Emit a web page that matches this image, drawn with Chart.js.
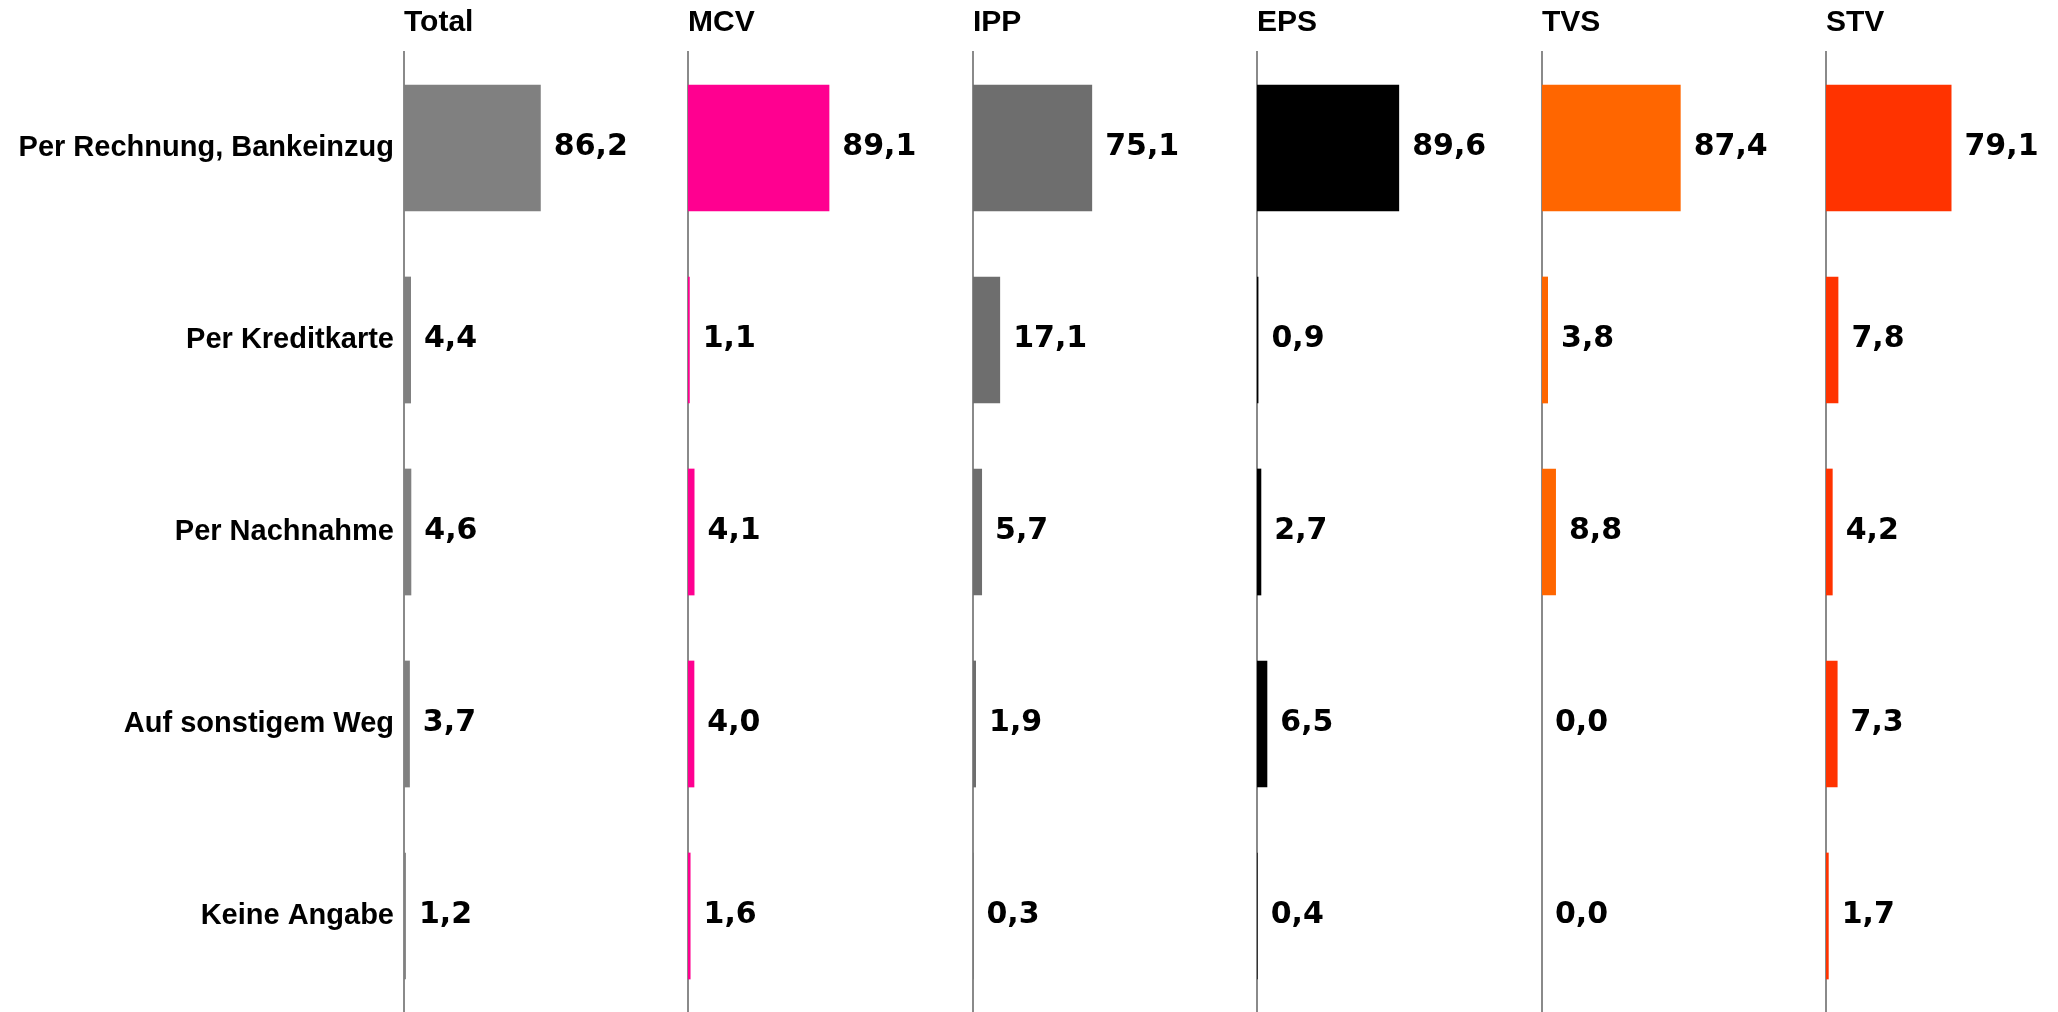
<!DOCTYPE html>
<html lang="de">
<head>
<meta charset="UTF-8">
<title>Zahlungsweise</title>
<script src="https://cdn.jsdelivr.net/npm/chart.js@4.4.3/dist/chart.umd.min.js"></script>
<style>
  body { margin: 0; background: #fff; width: 2058px; height: 1012px; overflow: hidden; position: relative; }
  canvas { position: absolute; top: 0; }
</style>
</head>
<body>
<script>
const categories = ['Per Rechnung, Bankeinzug', 'Per Kreditkarte', 'Per Nachnahme', 'Auf sonstigem Weg', 'Keine Angabe'];
const groups = ['Total', 'MCV', 'IPP', 'EPS', 'TVS', 'STV'];

const total = [86.2, 4.4, 4.6, 3.7, 1.2];
const mcv   = [89.1, 1.1, 4.1, 4.0, 1.6];
const ipp   = [75.1, 17.1, 5.7, 1.9, 0.3];
const eps   = [89.6, 0.9, 2.7, 6.5, 0.4];
const tvs   = [87.4, 3.8, 8.8, 0.0, 0.0];
const stv   = [79.1, 7.8, 4.2, 7.3, 1.7];

const series = [total, mcv, ipp, eps, tvs, stv];
const colors = ['#808080', '#ff0090', '#6e6e6e', '#000000', '#ff6600', '#ff3300'];

// value text to the right of each bar, german decimal comma
const valueLabels = {
  id: 'valueLabels',
  afterDatasetsDraw(chart) {
    const ctx = chart.ctx;
    const meta = chart.getDatasetMeta(0);
    const data = chart.data.datasets[0].data;
    ctx.save();
    ctx.font = 'bold 30px "DejaVu Sans"';
    ctx.fillStyle = '#000';
    ctx.textAlign = 'left';
    ctx.textBaseline = 'middle';
    meta.data.forEach((bar, j) => {
      ctx.fillText(data[j].toFixed(1).replace('.', ','), bar.x + 13, bar.y - 1);
    });
    ctx.restore();
  }
};

const firstAxis = 404;
const step = 284.4;
const plotW = 284;

groups.forEach((name, i) => {
  const yw = i === 0 ? firstAxis : 10;
  const canvas = document.createElement('canvas');
  canvas.width = yw + plotW;
  canvas.height = 1012;
  canvas.style.left = Math.round(firstAxis + i * step - yw) + 'px';
  document.body.appendChild(canvas);

  new Chart(canvas, {
    type: 'bar',
    data: {
      labels: categories,
      datasets: [{
        data: series[i],
        backgroundColor: colors[i],
        categoryPercentage: 1,
        barPercentage: 0.66
      }]
    },
    options: {
      indexAxis: 'y',
      responsive: false,
      animation: false,
      devicePixelRatio: 1,
      layout: { padding: 0 },
      plugins: {
        legend: { display: false },
        tooltip: { enabled: false },
        title: {
          display: true,
          text: name,
          align: 'start',
          fullSize: false,
          color: '#000',
          font: { family: '"Liberation Sans", Arial, sans-serif', size: 30, weight: 'bold' },
          padding: { top: 5, bottom: 11 }
        }
      },
      scales: {
        x: { display: false, min: 0, max: 179 },
        y: {
          afterFit: (scale) => {
            scale.width = yw;
            scale.paddingTop = 0;
            scale.paddingBottom = 0;
          },
          grid: { display: false, drawTicks: false },
          border: { display: true, color: '#8a8a8a', width: 2 },
          ticks: {
            display: i === 0,
            color: '#000',
            padding: 10,
            autoSkip: false,
            font: { family: '"Liberation Sans", Arial, sans-serif', size: 29, weight: 'bold' }
          }
        }
      }
    },
    plugins: [valueLabels]
  });
});
</script>
</body>
</html>
